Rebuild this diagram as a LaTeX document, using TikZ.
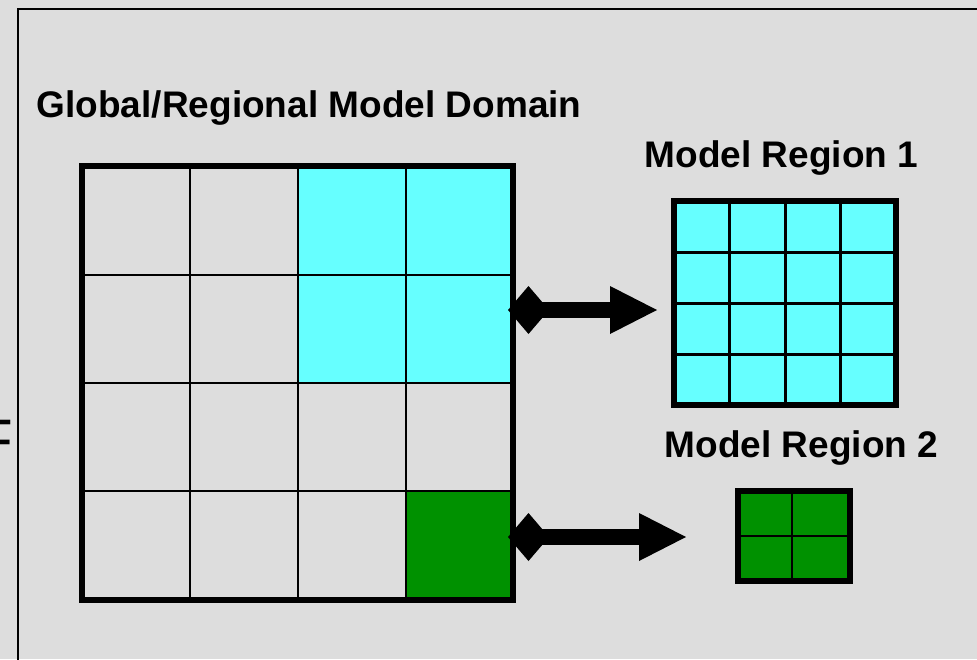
\documentclass[tikz,border=0pt]{standalone}
\usepackage{fontspec}
\setmainfont{Liberation Sans}
\usetikzlibrary{arrows.meta}
\definecolor{panelgray}{RGB}{221,221,221}
\definecolor{regioncyan}{RGB}{102,255,255}
\definecolor{regiongreen}{RGB}{0,145,0}
\tikzset{
  cellline/.style={black, line width=2pt},
  outerframe/.style={draw=black, line width=6pt, rectangle, inner sep=0pt, fill=none},
  label/.style={anchor=base west, inner sep=0pt, font=\bfseries\fontsize{37}{41}\selectfont},
  linkarrow/.style={black, line width=16pt,
    {Diamond[length=41pt,width=48pt,line width=0pt]}-{Triangle[length=47pt,width=48pt,line width=0pt]}}
}
\begin{document}
\begin{tikzpicture}[x=1pt,y=-1pt]
  \useasboundingbox (0,0) rectangle (977,659);
  \fill[panelgray] (0,0) rectangle (977,659);

  % panel border (top and left edges)
  \draw[line width=2.5pt] (18,680) -- (18,9) -- (1000,9);

  % letter cut off at the left edge
  \node[anchor=base west, inner sep=0pt, font=\fontsize{60}{60}\selectfont] (edgeglyph) at (-24,461) {F};

  % ---- global/regional domain: 4x4 grid ----
  \fill[regioncyan] (298,166) rectangle (513,383);
  \fill[regiongreen] (406,491) rectangle (513,600);
  \foreach \gx in {190,298,406} \draw[cellline] (\gx,166) -- (\gx,600);
  \foreach \gy in {275,383,491} \draw[cellline] (82,\gy) -- (513,\gy);
  \node[outerframe, minimum width=431pt, minimum height=434pt] (domain) at (297.5,383) {};

  % ---- model region 1: 4x4 grid ----
  \fill[regioncyan] (674,201) rectangle (896,405);
  \foreach \gx in {729.5,785,840.5} \draw[cellline, line width=3pt] (\gx,201) -- (\gx,405);
  \foreach \gy in {252,303,354} \draw[cellline, line width=3pt] (674,\gy) -- (896,\gy);
  \node[outerframe, minimum width=222pt, minimum height=204pt] (regionA) at (785,303) {};

  % ---- model region 2: 2x2 grid ----
  \fill[regiongreen] (738,491) rectangle (850,581);
  \draw[cellline] (792,491) -- (792,581);
  \draw[cellline] (738,536) -- (850,536);
  \node[outerframe, minimum width=112pt, minimum height=90pt] (regionB) at (794,536) {};

  % ---- labels ----
  \node[label] (domaintitle) at (36.5,117) {Global/Regional Model Domain};
  \node[label] (titleA) at (644.5,167) {Model Region 1};
  \node[label] (titleB) at (664.5,457) {Model Region 2};

  % ---- links from domain to the nested regions ----
  \coordinate (linkAfrom) at ([xshift=-8pt]domain.east |- 0,310);
  \coordinate (linkAto) at ([xshift=-14pt]regionA.west |- 0,310);
  \coordinate (linkBfrom) at ([xshift=-8pt]domain.east |- 0,537);
  \coordinate (linkBto) at ([xshift=-49pt]regionB.west |- 0,537);
  \draw[linkarrow] (linkAfrom) -- (linkAto);
  \draw[linkarrow] (linkBfrom) -- (linkBto);
\end{tikzpicture}
\end{document}
